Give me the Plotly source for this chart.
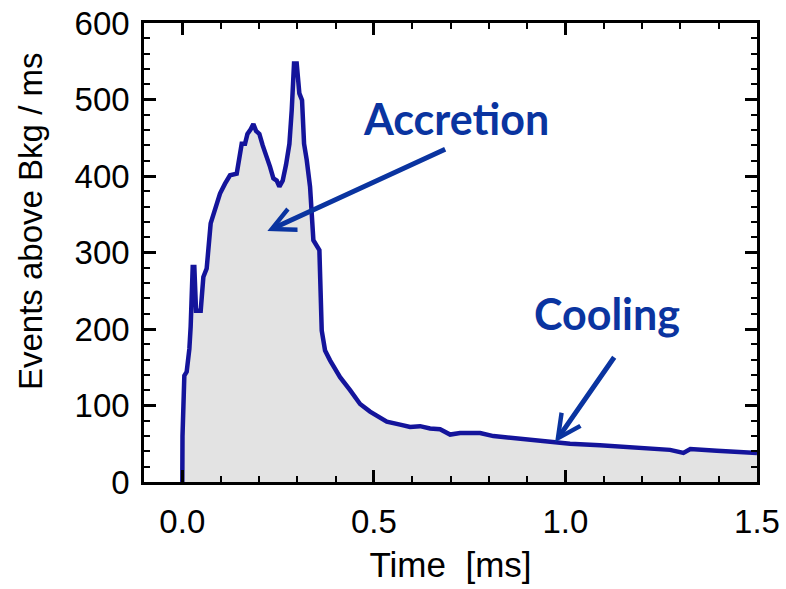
import plotly.graph_objects as go

# Time [ms] and events above background per ms
time_ms = [0.0, 0.0005, 0.0053, 0.0114, 0.0184, 0.0218, 0.0271, 0.0314, 0.0358, 0.048,
           0.0549, 0.0636, 0.074, 0.0828, 0.0984, 0.1115, 0.1245, 0.142, 0.149, 0.155,
           0.1637, 0.17, 0.1785, 0.1855, 0.1924, 0.2011, 0.2098, 0.2185, 0.229, 0.2377,
           0.2464, 0.2533, 0.262, 0.2708, 0.2795, 0.2856, 0.2916, 0.2986, 0.3055, 0.3125,
           0.3178, 0.3247, 0.3334, 0.3421, 0.349, 0.3578, 0.3639, 0.3726, 0.3856, 0.4117,
           0.4379, 0.464, 0.49, 0.5337, 0.5684, 0.5945, 0.6206, 0.6467, 0.6728, 0.699,
           0.725, 0.7773, 0.812, 0.873, 0.925, 0.9687, 1.012, 1.09, 1.1775, 1.273,
           1.308, 1.326, 1.395, 1.5]
events = [0, 60, 139, 144, 174, 203, 281, 281, 224, 224,
          268, 279, 338, 352, 377, 390, 401, 403, 425, 442,
          442, 455, 461, 468, 459, 455, 440, 429, 412, 397,
          394, 386, 394, 415, 442, 486, 547, 547, 508, 499,
          442, 421, 386, 316, 309, 303, 198, 172, 159, 137,
          120, 102, 92, 79, 75, 72, 73, 70, 69, 62,
          64, 64, 60, 57, 54, 52, 50, 48, 45, 42,
          38, 43, 41, 38]

x_range = [-0.1, 1.5]
y_range = [0, 600]
x_tickvals = [0.0, 0.5, 1.0, 1.5]
x_ticktext = ["0.0", "0.5", "1.0", "1.5"]
y_tickvals = [0, 100, 200, 300, 400, 500, 600]

x_title = "Time  [ms]"
y_title = "Events above Bkg / ms"

labels = ["Accretion", "Cooling"]
label_pos = [(0.715, 475), (1.108, 220)]
arrow_tail = [(0.69, 436), (1.13, 165)]
arrow_tip = [(0.222, 328), (0.973, 52)]

line_col = "#14149b"
ann_col = "#0a34a0"

fig = go.Figure()
fig.add_trace(go.Scatter(
    x=time_ms, y=events, mode="lines",
    line=dict(color=line_col, width=4.5),
    fill="tozeroy", fillcolor="#e3e3e3",
    showlegend=False,
))

for txt, (lx, ly) in zip(labels, label_pos):
    fig.add_annotation(x=lx, y=ly, xref="x", yref="y", text=txt, showarrow=False,
                       font=dict(family="Lato", size=43, color=ann_col, weight="bold"),
                       xanchor="center", yanchor="middle")

for (tx, ty), (hx, hy) in zip(arrow_tail, arrow_tip):
    fig.add_annotation(x=hx, y=hy, ax=tx, ay=ty, xref="x", yref="y", axref="x", ayref="y",
                       text="", showarrow=True, arrowhead=5, arrowsize=0.9,
                       arrowwidth=5, arrowcolor=ann_col)

tick_font = dict(family="Liberation Sans", size=33, color="black")
title_font = dict(family="Liberation Sans", size=33, color="black")

# y-axis title placed as rotated text
fig.add_annotation(x=-0.184, y=0.569, xref="paper", yref="paper", text=y_title,
                   textangle=-90, showarrow=False, font=title_font,
                   xanchor="center", yanchor="middle")

fig.update_xaxes(
    range=x_range, tickvals=x_tickvals, ticktext=x_ticktext,
    showline=True, linecolor="black", linewidth=2.5, mirror="ticks",
    ticks="inside", ticklen=12, tickwidth=2.5, tickcolor="black",
    minor=dict(dtick=0.1, tick0=0, ticks="inside", ticklen=6, tickwidth=2, tickcolor="black"),
    showgrid=False, zeroline=False, automargin=False,
    tickfont=tick_font, ticklabelstandoff=9,
    title=dict(text=x_title, font=dict(family="Liberation Sans", size=35, color="black"),
               standoff=14),
)
fig.update_yaxes(
    range=y_range, tickvals=y_tickvals,
    showline=True, linecolor="black", linewidth=2.5, mirror="ticks",
    ticks="inside", ticklen=12, tickwidth=2.5, tickcolor="black",
    minor=dict(dtick=20, tick0=0, ticks="inside", ticklen=6, tickwidth=2, tickcolor="black"),
    showgrid=False, zeroline=False, automargin=False,
    tickfont=tick_font, ticklabelstandoff=5,
)

fig.update_layout(
    width=786, height=589,
    margin=dict(l=144, r=29, t=23, b=107),
    paper_bgcolor="white", plot_bgcolor="white",
)

fig.write_html("out.html")
